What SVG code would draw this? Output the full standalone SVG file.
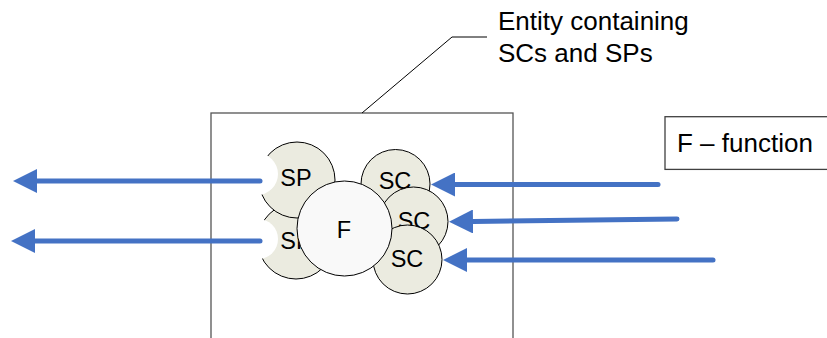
<svg xmlns="http://www.w3.org/2000/svg" width="827" height="338" viewBox="0 0 827 338">
<style>
text{font-family:"Liberation Sans",Arial,sans-serif;fill:#000}
.lbl{font-size:26px}
.c{font-size:23.5px;text-anchor:middle}
.unit{fill:#ebebe0;stroke:#000;stroke-width:1}
.bite{fill:#fff;stroke:none}
.fn{fill:#f9f9f9;stroke:#000;stroke-width:1}
.arr{stroke:#4472c4;stroke-width:5;stroke-linecap:round;fill:none;marker-end:url(#ah)}
</style>
<defs>
<marker id="ah" viewBox="0 0 24 24" markerWidth="24" markerHeight="24" markerUnits="userSpaceOnUse" refX="0" refY="12" orient="auto">
<path d="M0,0 L24,12 L0,24 z" fill="#4472c4"/>
</marker>
</defs>
<rect width="827" height="338" fill="#fff"/>
<g id="entity">
<rect x="211" y="113" width="302" height="240" fill="none" stroke="#555" stroke-width="1.3"/>
<polyline points="362,113 452,37 487,37" fill="none" stroke="#000" stroke-width="1"/>
<text class="lbl" x="498" y="30">Entity containing</text>
<text class="lbl" x="498" y="61.7">SCs and SPs</text>
</g>
<g id="legend">
<rect x="665" y="116.7" width="200" height="52.7" fill="#fff" stroke="#404040" stroke-width="1.3"/>
<text class="lbl" x="677" y="151.5">F – function</text>
</g>
<g id="sp2">
<circle class="unit" cx="296" cy="241" r="38"/>
<circle class="bite" cx="258" cy="239" r="20"/>
<text class="c" x="296" y="248.5">SP</text>
</g>
<g id="sp1">
<circle class="unit" cx="297" cy="180" r="38"/>
<circle class="bite" cx="257" cy="174" r="21"/>
<text class="c" x="296" y="185.5">SP</text>
</g>
<g id="sc1">
<circle class="unit" cx="395.5" cy="184" r="34.5"/>
<text class="c" x="395" y="189">SC</text>
</g>
<g id="sc2">
<circle class="unit" cx="413.5" cy="221.5" r="34.5"/>
<text class="c" x="414" y="228.5">SC</text>
</g>
<g id="sc3">
<circle class="unit" cx="407.5" cy="259.5" r="34.5"/>
<text class="c" x="407" y="267">SC</text>
</g>
<g id="f">
<circle class="fn" cx="344.5" cy="228.5" r="47.5"/>
<text class="c" x="344" y="237.7">F</text>
</g>
<g id="connectors">
<line class="arr" x1="260" y1="181" x2="37" y2="181"/>
<line class="arr" x1="260" y1="241" x2="35" y2="241"/>
<line class="arr" x1="658" y1="184.5" x2="455" y2="184.5"/>
<line class="arr" x1="677" y1="219" x2="473" y2="221.5"/>
<line class="arr" x1="713" y1="260" x2="467" y2="260"/>
</g>
</svg>
